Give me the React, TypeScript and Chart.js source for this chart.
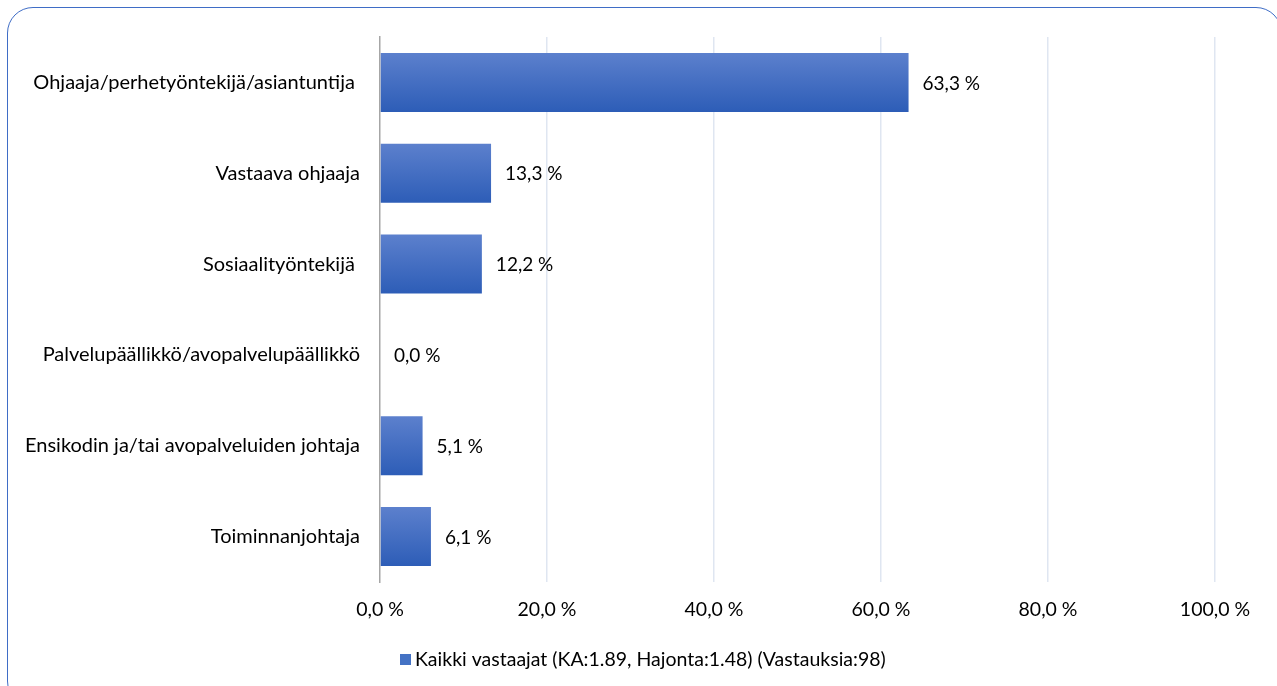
import React, { useEffect, useRef } from "react";
import { Chart, registerables } from "chart.js";

Chart.register(...registerables);

const categories = [
  "Ohjaaja/perhetyöntekijä/asiantuntija ",
  "Vastaava ohjaaja",
  "Sosiaalityöntekijä ",
  "Palvelupäällikkö/avopalvelupäällikkö",
  "Ensikodin ja/tai avopalveluiden johtaja",
  "Toiminnanjohtaja",
];
const values = [63.3, 13.3, 12.2, 0.0, 5.1, 6.1];
const seriesLabel = "Kaikki vastaajat (KA:1.89, Hajonta:1.48) (Vastauksia:98)";
const xTicks = [0, 20, 40, 60, 80, 100];

const FONT = "Lato, 'Noto Sans', sans-serif";
const SERIES_COLOR = "#4472c4";

const fmt = (v: number) => v.toFixed(1).replace(".", ",") + " %";

const gradientPlugin = {
  id: "barGradient",
  beforeDatasetsDraw(chart: any) {
    const ctx = chart.ctx;
    chart.data.datasets.forEach((_ds: any, di: number) => {
      const meta = chart.getDatasetMeta(di);
      meta.data.forEach((el: any) => {
        const top = el.y - el.height / 2;
        const bottom = el.y + el.height / 2;
        const g = ctx.createLinearGradient(0, top, 0, bottom);
        g.addColorStop(0, "#5c80cd");
        g.addColorStop(1, "#2d5db7");
        el.options = Object.assign({}, el.options, { backgroundColor: g });
      });
    });
  },
};

const valueLabelPlugin = {
  id: "valueLabels",
  afterDatasetsDraw(chart: any) {
    const ctx = chart.ctx;
    ctx.save();
    ctx.font = `19px ${FONT}`;
    ctx.fillStyle = "#000000";
    ctx.textAlign = "left";
    ctx.textBaseline = "middle";
    chart.data.datasets.forEach((ds: any, di: number) => {
      const meta = chart.getDatasetMeta(di);
      meta.data.forEach((el: any, i: number) => {
        ctx.fillText(fmt(ds.data[i]), el.x + 14, el.y + 1);
      });
    });
    ctx.restore();
  },
};

const customLegendPlugin = {
  id: "customLegend",
  afterDraw(chart: any) {
    const ctx = chart.ctx;
    ctx.save();
    const ds = chart.data.datasets[0];
    const boxX = 400;
    const boxY = 654;
    ctx.fillStyle = SERIES_COLOR;
    ctx.fillRect(boxX, boxY, 11, 11);
    ctx.font = `19.5px ${FONT}`;
    ctx.fillStyle = "#000000";
    ctx.textAlign = "left";
    ctx.textBaseline = "middle";
    ctx.fillText(ds.label, boxX + 15, boxY + 6);
    ctx.restore();
  },
};

export default function App() {
  const ref = useRef<HTMLCanvasElement | null>(null);

  useEffect(() => {
    if (!ref.current) return;
    const chart = new Chart(ref.current, {
      type: "bar",
      data: {
        labels: categories,
        datasets: [
          {
            label: seriesLabel,
            data: values,
            backgroundColor: () => SERIES_COLOR,
            borderWidth: 0,
            categoryPercentage: 1,
            barPercentage: 0.65,
          },
        ],
      },
      options: {
        indexAxis: "y",
        animation: false,
        responsive: false,
        maintainAspectRatio: false,
        layout: { padding: { top: 37, right: 62, bottom: 54, left: 0 } },
        scales: {
          x: {
            min: 0,
            max: 100,
            afterBuildTicks: (scale: any) => {
              scale.ticks = xTicks.map((v) => ({ value: v }));
            },
            afterFit: (scale: any) => {
              scale.height = 50;
            },
            grid: {
              color: (c: any) => (c.tick && c.tick.value === 0 ? "rgba(0,0,0,0)" : "#dfe6f1"),
              lineWidth: 1.5,
              drawTicks: false,
            },
            border: { display: false },
            ticks: {
              padding: 16,
              color: "#000000",
              font: { family: FONT, size: 19.5 },
              callback: (v: any) => fmt(Number(v)),
            },
          },
          y: {
            afterFit: (scale: any) => {
              scale.width = 380;
            },
            grid: { display: false, drawTicks: false },
            border: { display: true, color: "#a6a6a6", width: 1.5 },
            ticks: {
              padding: 20,
              color: "#000000",
              font: { family: FONT, size: 20 },
            },
          },
        },
        plugins: {
          legend: { display: false },
          tooltip: { enabled: false },
        },
      },
      plugins: [gradientPlugin, valueLabelPlugin, customLegendPlugin],
    } as any);
    return () => chart.destroy();
  }, []);

  return (
    <div style={{ position: "fixed", left: 0, top: 0, width: 1277, height: 686, background: "#ffffff", overflow: "hidden" }}>
      <div
        style={{
          position: "absolute",
          left: 7,
          top: 7,
          width: 1275,
          height: 700,
          border: "1.5px solid #3f6dc6",
          borderRadius: 26,
          boxSizing: "border-box",
        }}
      />
      <canvas ref={ref} width={1277} height={686} style={{ position: "absolute", left: 0, top: 0 }} />
    </div>
  );
}
